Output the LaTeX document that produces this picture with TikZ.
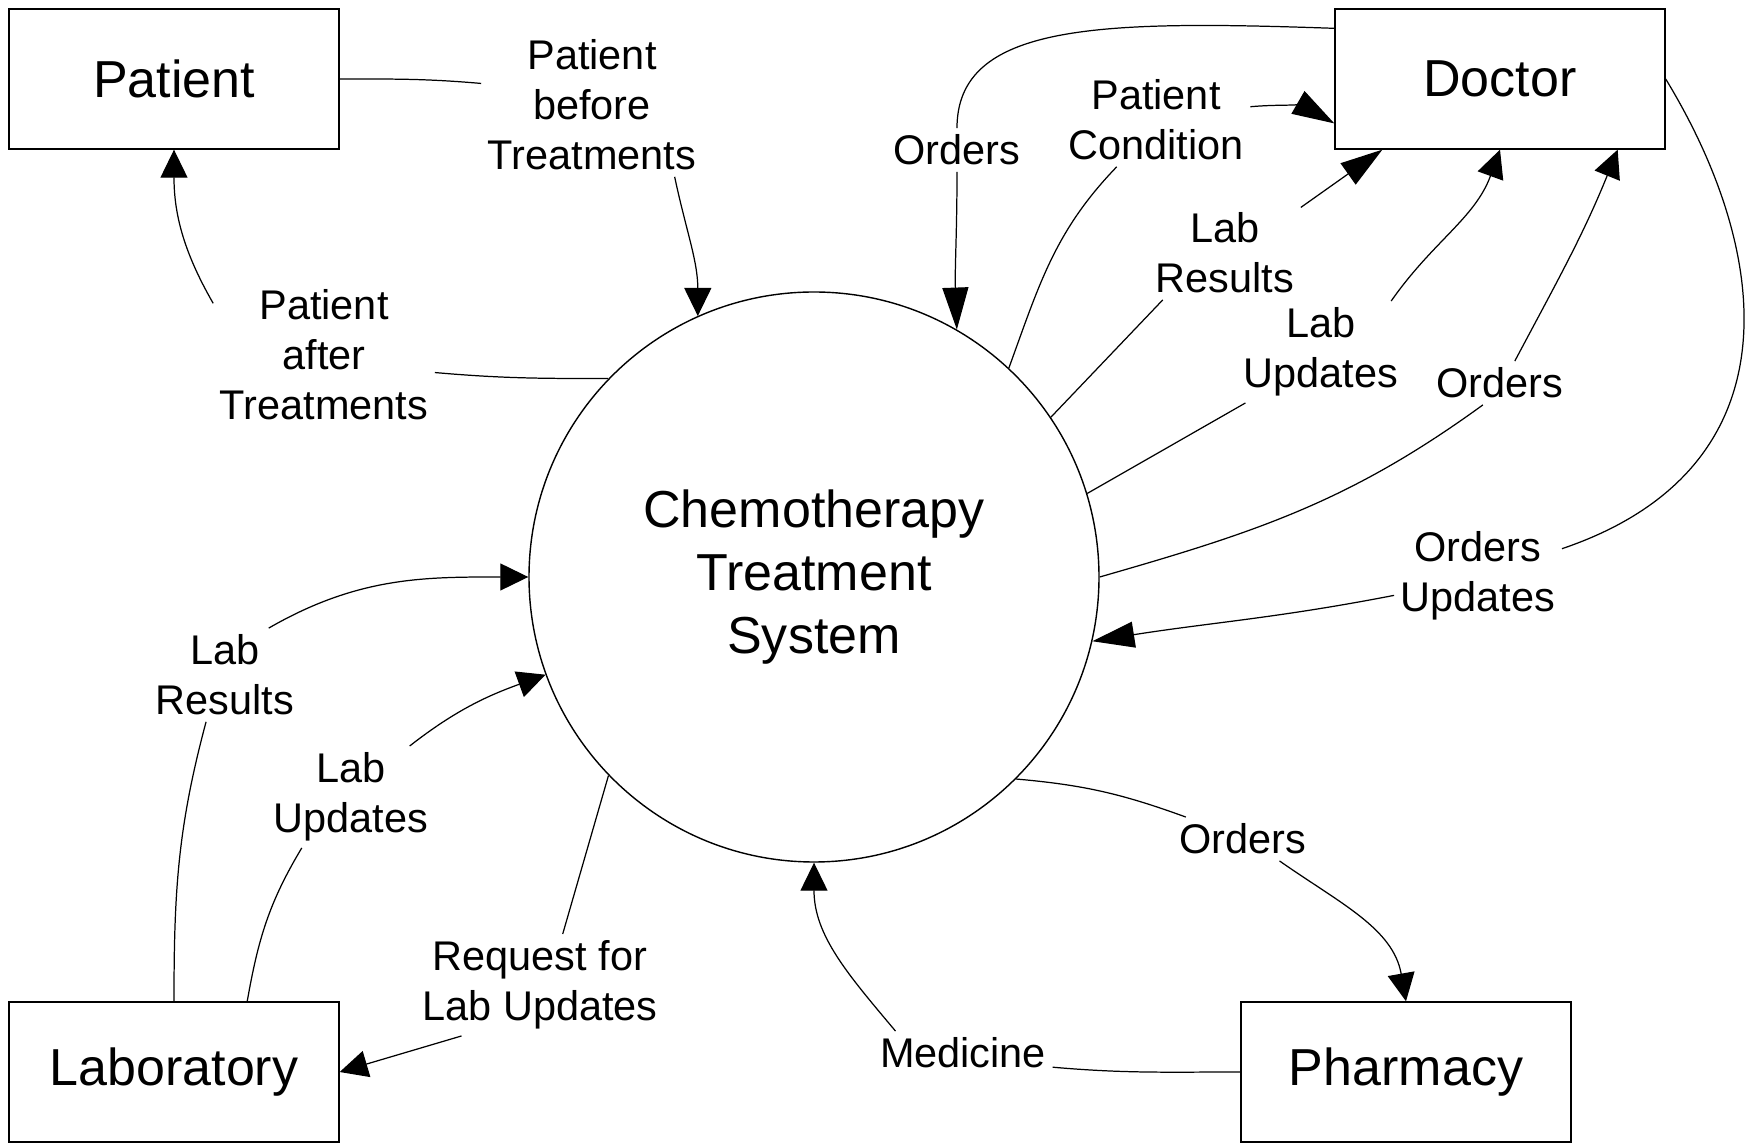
\documentclass[tikz,border=0pt]{standalone}
\usepackage{fontspec}
\setmainfont{Liberation Sans}
\usetikzlibrary{arrows.meta}
\begin{document}
\begin{tikzpicture}[x=0.1mm,y=0.1mm]
\tikzset{
 box/.style={draw, line width=0.4pt, minimum width=33mm, minimum height=14mm, inner sep=0pt, font=\fontsize{14.8}{17.8}\selectfont},
 proc/.style={draw, circle, line width=0.4pt, minimum size=57mm, inner sep=0pt, align=center, font=\fontsize{14.8}{17.9}\selectfont},
 lbl/.style={align=center, inner sep=0.6mm, font=\fontsize{11.8}{14.2}\selectfont},
 flow/.style={line width=0.35pt},
 arr/.style={flow, -{Triangle[length=2.8mm,width=2.7mm]}},
 arrlong/.style={flow, -{Triangle[length=4.2mm,width=2.6mm]}},
}
\useasboundingbox (0,0) rectangle (1756,-1143);
\node[box] (patient) at (174,-79) {Patient};
\node[box] (doctor) at (1500,-79) {Doctor};
\node[box] (lab) at (174,-1072) {Laboratory};
\node[box] (pharmacy) at (1406,-1072) {Pharmacy};
\node[proc] (sys) at (814,-577) {Chemotherapy\\Treatment\\System};

\node[lbl] (l1) at (592,-105) {Patient\\before\\Treatments};
\node[lbl] (l2) at (324,-355) {Patient\\after\\Treatments};
\node[lbl] (l3) at (957,-150) {Orders};
\node[lbl] (l4) at (1156,-120) {Patient\\Condition};
\node[lbl] (l5) at (1225,-253) {Lab\\Results};
\node[lbl] (l6) at (1321,-352) {Lab\\Updates};
\node[lbl] (l7) at (1500,-383) {Orders};
\node[lbl] (l8) at (1478,-576) {Orders\\Updates};
\node[lbl] (l9) at (225,-675) {Lab\\Results};
\node[lbl] (l10) at (351,-797) {Lab\\Updates};
\node[lbl] (l11) at (540,-985) {Request for\\Lab Updates};
\node[lbl] (l12) at (1243,-839) {Orders};
\node[lbl] (l13) at (963,-1053) {Medicine};

\draw[flow] (patient.east) to[out=0,in=175] (l1.169);
\draw[arr] (l1.-41) to[out=-78,in=90] (sys.114.2);
\draw[flow] (sys.136.1) to[out=180,in=-5] (l2.-9);
\draw[arr] (l2.155) to[out=120,in=-90] (patient.south);
\draw[flow] (doctor.163.5) to[out=178,in=90,out distance=23.5mm,in distance=10.5mm] (l3.north);
\draw[arrlong] (l3.south) to[out=-90,in=92] (sys.60.6);
\draw[flow] (sys.47) to[out=70,in=-134] (l4.-130);
\draw[arrlong] (l4.8.7) to[out=5,in=150] (doctor.-165);
\draw[flow] (sys.34.6) -- (l5.-143);
\draw[arrlong] (l5.31) -- (doctor.-149);
\draw[flow] (sys.17.9) -- (l6.-146);
\draw[arr] (l6.36) to[out=55,in=-110] (doctor.south);
\draw[flow] (sys.0) to[out=16,in=-144] (l7.-128);
\draw[arr] (l7.56) to[out=62,in=-112] (doctor.-31.4);
\draw[flow] (doctor.east) to[out=-58.7,in=18.7,out distance=21mm,in distance=24.6mm] (l8.18);
\draw[arrlong] (l8.-167) to[out=191,in=9] (sys.-13.4);
\draw[flow] (lab.north) to[out=90,in=-105] (l9.-112);
\draw[arr] (l9.47) to[out=30,in=180] (sys.180);
\draw[flow] (lab.44.6) to[out=80,in=-121] (l10.-134);
\draw[arr] (l10.41) to[out=38,in=-160] (sys.-160.2);
\draw[flow] (sys.-136.4) -- (l11.66);
\draw[arr] (l11.-147) -- (lab.east);
\draw[flow] (sys.-45.9) to[out=-5,in=160] (l12.159);
\draw[arr] (l12.-31) to[out=-35,in=100] (pharmacy.north);
\draw[flow] (pharmacy.west) to[out=180,in=-5] (l13.-9);
\draw[arr] (l13.162) to[out=130,in=-90] (sys.-90);
\end{tikzpicture}
\end{document}
